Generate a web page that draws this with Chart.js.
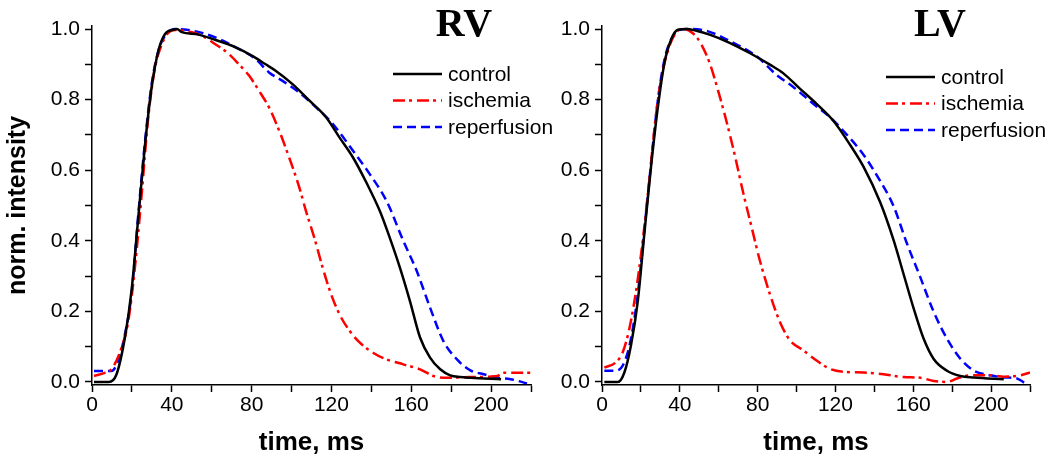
<!DOCTYPE html>
<html>
<head>
<meta charset="utf-8">
<script src="https://cdn.jsdelivr.net/npm/chart.js@4.4.1/dist/chart.umd.min.js"></script>
<style>
    html, body { margin: 0; padding: 0; background: #fff; }
    #wrap { position: relative; width: 1050px; height: 464px; overflow: hidden; }
    #rvBox { position: absolute; left: 0; top: 0; width: 575px; height: 464px; }
    #lvBox { position: absolute; left: 530px; top: 0; width: 520px; height: 464px; }
</style>
</head>
<body>
<div id="wrap">
    <div id="rvBox"><canvas id="rvChart"></canvas></div>
    <div id="lvBox"><canvas id="lvChart"></canvas></div>
</div>
<script>
// ---- data (time in ms, normalised intensity) ----
const seriesLabels = ["control", "ischemia", "reperfusion"];
const xTicks = [0, 20, 40, 60, 80, 100, 120, 140, 160, 180, 200, 220];
const yTicks = [0, 0.1, 0.2, 0.3, 0.4, 0.5, 0.6, 0.7, 0.8, 0.9, 1.0];

// RV
const rvControlT = [1, 8.4, 12.3, 16.5, 19.8, 23.2, 26.6, 29.9, 33.3, 36.6, 40.8, 42.5, 45, 53.4, 60.2, 72, 80.3, 87, 92, 100.5, 109, 117.3, 124, 130.8, 137.5, 144.2, 149.2, 154.3, 159.3, 164.4, 169.4, 174.5, 179.5, 184.5, 189.6, 205];
const rvControlV = [0, 0, 0.022, 0.126, 0.258, 0.466, 0.674, 0.835, 0.939, 0.986, 0.998, 1.0, 0.991, 0.984, 0.972, 0.948, 0.924, 0.9, 0.882, 0.844, 0.797, 0.75, 0.693, 0.636, 0.565, 0.485, 0.409, 0.324, 0.23, 0.126, 0.069, 0.036, 0.019, 0.014, 0.012, 0.008];

const rvIschemiaT = [1, 6.4, 9.7, 14.8, 18.2, 21.5, 24.9, 28.2, 31.6, 35, 38.3, 41.7, 48.4, 55.1, 61.8, 68.6, 73.6, 78.7, 83.7, 88.7, 93.8, 98.8, 103.9, 107.2, 111.4, 115.6, 119.8, 124, 129.1, 134.1, 140.8, 147.6, 156, 164.4, 171.1, 177.8, 189.6, 203, 206.4, 220];
const rvIschemiaV = [0.017, 0.026, 0.036, 0.097, 0.173, 0.324, 0.532, 0.75, 0.891, 0.957, 0.99, 0.997, 0.993, 0.981, 0.957, 0.929, 0.9, 0.868, 0.825, 0.778, 0.712, 0.636, 0.551, 0.485, 0.409, 0.324, 0.249, 0.192, 0.145, 0.112, 0.083, 0.064, 0.05, 0.036, 0.017, 0.012, 0.014, 0.017, 0.026, 0.026];

const rvReperfT = [1, 9.7, 13.1, 16.5, 19.8, 23.2, 26.6, 29.9, 33.3, 36.6, 41.7, 48.4, 55.1, 63.5, 72, 82, 88.7, 95.5, 103.9, 112.3, 120.7, 130.8, 139.2, 147.6, 156, 162.7, 169.4, 176.1, 182.9, 189.6, 196.3, 203, 209.7, 218];
const rvReperfV = [0.031, 0.031, 0.06, 0.135, 0.249, 0.475, 0.683, 0.844, 0.939, 0.981, 1.0, 0.997, 0.989, 0.972, 0.948, 0.915, 0.877, 0.853, 0.82, 0.778, 0.731, 0.655, 0.589, 0.513, 0.4, 0.315, 0.211, 0.116, 0.064, 0.033, 0.022, 0.012, 0.008, -0.004];

// LV
const lvControlT = [1.2, 8.1, 11.5, 14.9, 18.4, 21.8, 25.3, 28.7, 32.1, 35.6, 39, 43.3, 48.5, 55.3, 65.6, 75.9, 86.3, 93.1, 101.7, 110.3, 118.9, 127.5, 134.4, 143, 149.8, 155, 160.1, 165.3, 170.4, 177.3, 184.2, 191.1, 206.5];
const lvControlV = [0, 0, 0.027, 0.104, 0.229, 0.422, 0.615, 0.778, 0.904, 0.971, 0.998, 1.0, 0.995, 0.984, 0.961, 0.932, 0.899, 0.875, 0.831, 0.788, 0.74, 0.672, 0.61, 0.509, 0.403, 0.306, 0.21, 0.123, 0.066, 0.032, 0.017, 0.013, 0.008];

const lvIschemiaT = [1.2, 7.2, 10.7, 14.1, 17.5, 21, 24.4, 27.8, 31.3, 34.7, 38.1, 41.9, 46.7, 51, 55.3, 59.6, 63.9, 68.2, 72.5, 76.8, 81.1, 86.3, 91.4, 96.6, 103.4, 110.3, 117.2, 124, 134.4, 144.7, 155, 163.6, 170.4, 177.3, 182.5, 189.3, 199.7, 206.5, 215.1, 220];
const lvIschemiaV = [0.041, 0.056, 0.085, 0.152, 0.258, 0.403, 0.576, 0.759, 0.884, 0.952, 0.99, 1.0, 0.988, 0.957, 0.904, 0.827, 0.74, 0.644, 0.538, 0.441, 0.345, 0.249, 0.171, 0.118, 0.09, 0.061, 0.037, 0.029, 0.027, 0.022, 0.014, 0.012, 0.003, 0.0, 0.01, 0.019, 0.019, 0.015, 0.019, 0.027];

const lvReperfT = [1.2, 7.2, 11.5, 14.9, 18.4, 21.8, 25.3, 28.7, 32.1, 35.6, 39.9, 46.7, 55.3, 65.6, 79.4, 89.7, 98.3, 108.6, 117.2, 125.8, 134.4, 141.2, 149.8, 156.7, 163.6, 170.4, 177.3, 184.2, 191.1, 199.7, 206.5, 213.3, 217];
const lvReperfV = [0.032, 0.032, 0.056, 0.123, 0.249, 0.432, 0.624, 0.798, 0.913, 0.971, 0.998, 1.0, 0.992, 0.966, 0.923, 0.87, 0.836, 0.788, 0.75, 0.701, 0.644, 0.586, 0.499, 0.393, 0.297, 0.2, 0.123, 0.066, 0.032, 0.019, 0.013, 0.01, -0.002];

const seriesColors = ["#000000", "#ff0000", "#0000ff"];
const seriesDash = [[], [12, 4, 3, 5], [9, 5]];

const sansFont = "'Liberation Sans', Arial, sans-serif";

function toPoints(ts, vs) {
    return ts.map((t, i) => ({ x: t, y: vs[i] }));
}

// draws the big panel label and the legend inside the plot
const panelDecor = {
    id: 'panelDecor',
    afterDraw(chart, args, opts) {
        const { ctx, chartArea } = chart;
        ctx.save();
        ctx.fillStyle = "#000";
        ctx.font = "bold 40px 'Liberation Serif', 'Times New Roman', serif";
        ctx.textAlign = "center";
        ctx.textBaseline = "alphabetic";
        ctx.fillText(opts.title, chartArea.right - opts.titleOffset, 36);

        ctx.font = "21px " + sansFont;
        ctx.textAlign = "left";
        ctx.textBaseline = "middle";
        chart.data.datasets.forEach((ds, i) => {
            const y = opts.legendTop + i * 26.5;
            const x0 = chartArea.right - opts.legendOffset;
            ctx.strokeStyle = ds.borderColor;
            ctx.lineWidth = 2.5;
            ctx.setLineDash(ds.borderDash);
            ctx.beginPath();
            ctx.moveTo(x0, y);
            ctx.lineTo(x0 + 49, y);
            ctx.stroke();
            ctx.fillStyle = "#000";
            ctx.fillText(ds.label, x0 + 55, y + 1);
        });
        ctx.restore();
    }
};

function makePanel(canvasId, decor, series, yWidth, padRight, showYTitle) {
    const axisCommon = {
        border: { display: true, color: "#000", width: 1.5 },
        grid: { display: true, drawOnChartArea: false, drawTicks: true, tickLength: 7, tickColor: "#000", tickWidth: 1.5 }
    };
    return new Chart(document.getElementById(canvasId), {
        type: "line",
        data: {
            datasets: series.map((s, i) => ({
                label: seriesLabels[i],
                data: toPoints(s[0], s[1]),
                borderColor: seriesColors[i],
                borderDash: seriesDash[i],
                borderWidth: 2.5,
                pointRadius: 0,
                fill: false,
                cubicInterpolationMode: "monotone"
            }))
        },
        options: {
            responsive: true,
            maintainAspectRatio: false,
            animation: false,
            layout: { padding: { top: 26, right: padRight, bottom: 0, left: 0 } },
            scales: {
                x: {
                    type: "linear",
                    min: 0,
                    max: 220,
                    ...axisCommon,
                    afterBuildTicks: scale => { scale.ticks = xTicks.map(v => ({ value: v })); },
                    afterFit: scale => { scale.height = 79; },
                    ticks: {
                        autoSkip: false,
                        maxRotation: 0,
                        padding: 1,
                        color: "#000",
                        font: { family: sansFont, size: 21 },
                        callback: value => value % 40 === 0 && value <= 200 ? String(value) : ""
                    },
                    title: {
                        display: true,
                        text: "time, ms",
                        color: "#000",
                        padding: { top: 0, bottom: 6 },
                        font: { family: sansFont, size: 26, weight: "bold" }
                    }
                },
                y: {
                    type: "linear",
                    min: -0.0085,
                    max: 1.0085,
                    ...axisCommon,
                    afterBuildTicks: scale => { scale.ticks = yTicks.map(v => ({ value: v })); },
                    afterFit: scale => { scale.width = yWidth; },
                    ticks: {
                        autoSkip: false,
                        padding: 5,
                        color: "#000",
                        font: { family: sansFont, size: 21 },
                        callback: value => Math.round(value * 10) % 2 === 0 ? value.toFixed(1) : ""
                    },
                    title: {
                        display: showYTitle,
                        text: "norm. intensity",
                        color: "#000",
                        padding: { top: 3, bottom: 0 },
                        font: { family: sansFont, size: 25, weight: "bold" }
                    }
                }
            },
            plugins: {
                legend: { display: false },
                tooltip: { enabled: false },
                panelDecor: decor
            }
        },
        plugins: [panelDecor]
    });
}

makePanel("rvChart", { title: "RV", titleOffset: 67, legendOffset: 138, legendTop: 74 }, [
    [rvControlT, rvControlV],
    [rvIschemiaT, rvIschemiaV],
    [rvReperfT, rvReperfV]
], 92, 44, true);

makePanel("lvChart", { title: "LV", titleOffset: 90, legendOffset: 144, legendTop: 77 }, [
    [lvControlT, lvControlV],
    [lvIschemiaT, lvIschemiaV],
    [lvReperfT, lvReperfV]
], 72, 20, false);
</script>
</body>
</html>
